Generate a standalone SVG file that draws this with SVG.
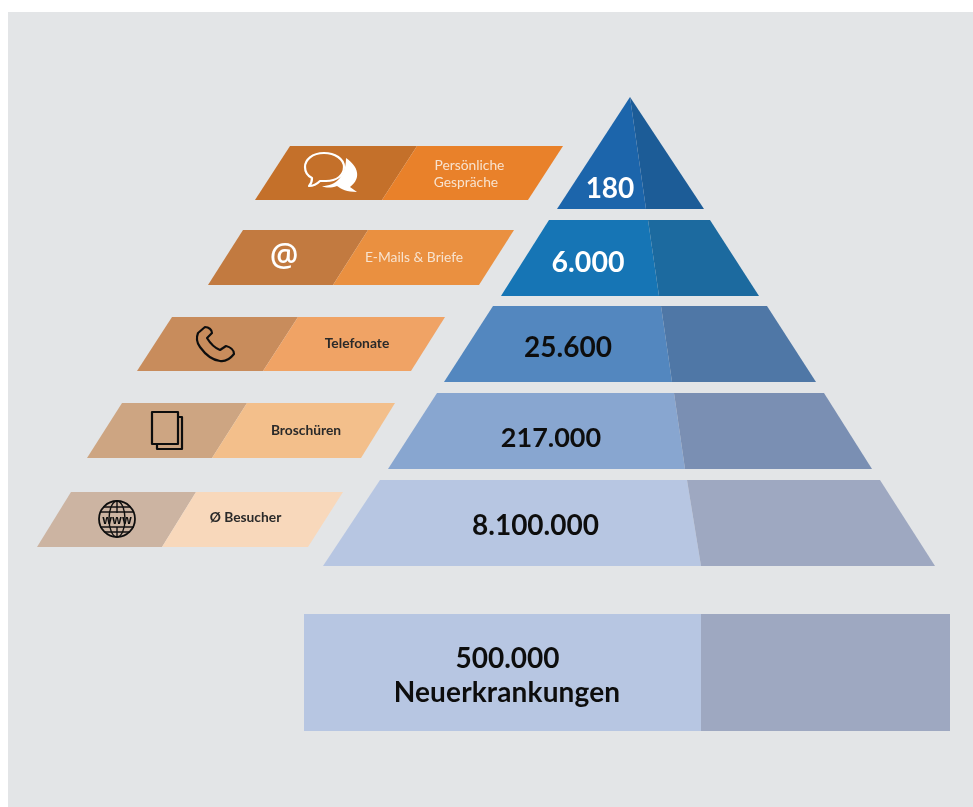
<svg xmlns="http://www.w3.org/2000/svg" width="973" height="807" viewBox="0 0 973 807">
<defs><filter id="soft" x="0" y="0" width="100%" height="100%"><feGaussianBlur stdDeviation="0.45"/></filter></defs>
<style>
.num{font-family:Lato,"Open Sans",sans-serif;font-weight:700;text-anchor:middle;font-size:28px}
.w{fill:#fff}.k{fill:#111}
.lab{font-family:Lato,"Open Sans",sans-serif;font-weight:700;font-size:13.8px;text-anchor:middle}
.lw{fill:#f8e3cf;font-weight:400}.lk{fill:#2a2a2a}
.ico{fill:none;stroke:#111;stroke-width:2.2;stroke-linejoin:round}
.icw{fill:none;stroke:#fff;stroke-width:2.2;stroke-linejoin:round}
</style>
<rect width="973" height="807" fill="#fff"/>
<g filter="url(#soft)">
<rect x="8" y="12" width="965" height="795" fill="#e3e5e7"/>

<g id="level-180">
<polygon points="630,97 557,209 646,209" fill="#1f65ab"/>
<polygon points="630,97 704,209 646,209" fill="#1d5c97"/>
<text class="num w" x="610" y="197.5">180</text>
</g>
<g id="level-6000">
<polygon points="549,220 648,220 659,296 501,296" fill="#1375b5"/>
<polygon points="648,220 710,220 759,296 659,296" fill="#1d6a9f"/>
<text class="num w" x="588" y="271.5" style="font-size:28.5px">6.000</text>
</g>
<g id="level-25600">
<polygon points="493,306 661,306 672,382 444,382" fill="#5287bf"/>
<polygon points="661,306 767,306 816,382 672,382" fill="#4f77a6"/>
<text class="num k" x="568" y="357">25.600</text>
</g>
<g id="level-217000">
<polygon points="437,393 674,393 685,469 388,469" fill="#88a6d0"/>
<polygon points="674,393 824,393 872,469 685,469" fill="#7a8fb3"/>
<text class="num k" x="551" y="447" style="font-size:27px">217.000</text>
</g>
<g id="level-8100000">
<polygon points="380,480 687,480 701,566 323,566" fill="#b7c6e2"/>
<polygon points="687,480 880,480 935,566 701,566" fill="#9ea8c1"/>
<text class="num k" x="535.5" y="535">8.100.000</text>
</g>
<g id="base-500000">
<rect x="304" y="614" width="397" height="117" fill="#b7c6e2"/>
<rect x="701" y="614" width="249" height="117" fill="#9ea8c1"/>
<text class="num k" x="507.5" y="668">500.000</text>
<text class="num k" x="507" y="701.5" letter-spacing="0.15">Neuerkrankungen</text>
</g>

<g id="bar-gespraeche">
<polygon points="290,146 417,146 382,200 255,200" fill="#c47029"/>
<polygon points="417,146 563,146 528,200 382,200" fill="#e9812b"/>
<path d="M346,158 C358,166 362,178 350,187 L357,192 C347,192 341,189 337,186 C331,188 326,188 322,186 C336,186 346,176 346,158 Z" fill="#fff"/>
<path class="icw" d="M324,153 C312,153 305,160 305,167 C305,172 308,176 312,178 C312,181 311,184 309,186 C313,186 317,184 320,181 C322,181 324,181 326,181 C337,181 344,175 344,167 C344,159 335,153 324,153 Z"/>
<text class="lab lw" x="469.5" y="170">Persönliche</text>
<text class="lab lw" x="466" y="187">Gespräche</text>
</g>
<g id="bar-emails">
<polygon points="243,230 368,230 333,285 208,285" fill="#c27a3f"/>
<polygon points="368,230 514,230 479,285 333,285" fill="#ea9040"/>
<text x="284" y="266" font-family="'Open Sans',sans-serif" font-weight="600" font-size="32" fill="#fff" text-anchor="middle">@</text>
<text class="lab lw" x="414" y="262">E-Mails &amp; Briefe</text>
</g>
<g id="bar-telefonate">
<polygon points="172,317 298,317 263,371 137,371" fill="#c88c5c"/>
<polygon points="298,317 445,317 411,371 263,371" fill="#f0a365"/>
<path class="ico" d="M205,327 L198,333 C196,338 197,343 200,347 C205,354 212,360 220,361 C226,362 230,359 234,354 C234,350 230,347 226,346 L220,350 C215,348 210,343 207,338 L212,333 C212,330 209,327 205,327 Z"/>
<text class="lab lk" x="357" y="348">Telefonate</text>
</g>
<g id="bar-broschueren">
<polygon points="122,403 247,403 212,458 87,458" fill="#cda582"/>
<polygon points="247,403 395,403 361,458 212,458" fill="#f3bf8b"/>
<rect class="ico" x="152" y="412" width="26" height="32"/>
<path class="ico" d="M178,417 H182 V449 H157 V444"/>
<text class="lab lk" x="306" y="435">Broschüren</text>
</g>
<g id="bar-besucher">
<polygon points="71,492 196,492 162,547 37,547" fill="#ccb4a2"/>
<polygon points="196,492 343,492 308,547 162,547" fill="#f8d8bb"/>
<g fill="none" stroke="#111" stroke-width="1.4">
<circle cx="117" cy="519" r="18" stroke-width="1.8"/>
<ellipse cx="117" cy="519" rx="8" ry="18"/>
<path d="M117,501 V513 M117,527 V537 M103,507 H131 M100,512 H134 M100,527 H134 M104,532 H130"/>
</g>
<text x="117" y="523.5" font-family="'Open Sans',sans-serif" font-weight="700" font-size="11.5" fill="#111" text-anchor="middle">www</text>
<text class="lab lk" x="245.5" y="522">Ø Besucher</text>
</g>
</g>
</svg>
